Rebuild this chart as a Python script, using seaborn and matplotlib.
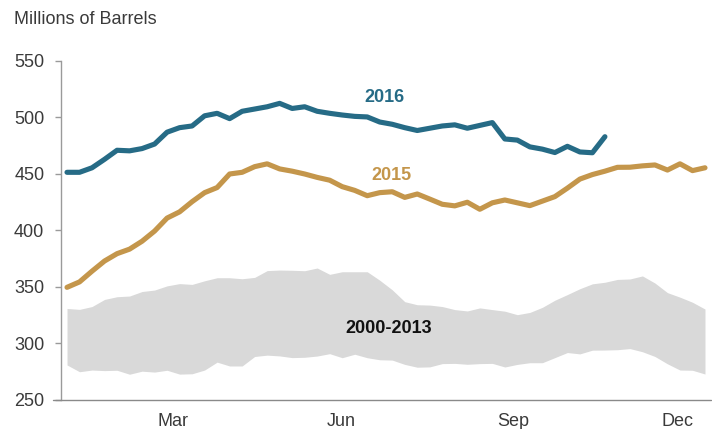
import numpy as np
import pandas as pd
import matplotlib
matplotlib.use("Agg")
import matplotlib.pyplot as plt
import seaborn as sns

# ---- data (weekly, millions of barrels) ----
weeks = list(range(52))

stocks_2016 = [451.5, 451.5, 455.5, 463, 471, 470.5, 472.5, 476.5, 487, 491,
               492.5, 501.5, 503.7, 499, 505.5, 507.5, 509.5, 512.5, 508, 509.5,
               505.5, 503.7, 502.2, 501, 500.5, 496, 494, 491, 488.5, 490.5,
               492.5, 493.5, 490.5, 493, 495.5, 481, 480, 474, 472, 469,
               474.5, 469.5, 468.8, 483]

stocks_2015 = [349.7, 354.5, 364, 373, 379.5, 383.5, 390.5, 399.5, 411, 416.5,
               425.5, 433.5, 438, 450, 451.5, 456.5, 459, 454.5, 452.5, 450,
               447, 444.5, 438.8, 435.5, 430.8, 433.5, 434.3, 429.3, 432.3, 427.8,
               423.2, 421.8, 425, 418.8, 424.5, 427, 424.5, 422, 426, 430,
               437.5, 445.5, 449.5, 452.5, 455.9, 456, 457.2, 458, 453.5, 459,
               453, 455.5]

range_high = [331, 330.2, 332.7, 339, 341.4, 342, 346, 347.3, 351, 353,
              352.3, 355.5, 358.2, 358.2, 357.3, 358.5, 364.5, 365, 364.8, 364.4,
              366.8, 361.2, 363.5, 363.5, 363.5, 356, 347.5, 337, 334.3, 334,
              332.7, 330, 328.8, 331.5, 330, 328.6, 325.5, 327.5, 332, 338.3,
              343.3, 348.5, 352.8, 354.2, 356.7, 357.1, 359.8, 353.5, 345, 341,
              336.5, 330.5]

range_low = [281, 275, 276.5, 276, 276.3, 272.8, 275.5, 274.7, 276.3, 272.9,
             273.2, 276.5, 283.5, 280.1, 280.1, 288.5, 289.7, 289, 287.5, 287.8,
             288.9, 291, 287.4, 290.5, 287.4, 285.6, 285.3, 281.5, 279, 279.3,
             282.2, 282.4, 281.6, 282.2, 282.4, 279.2, 281.5, 283, 283, 287.5,
             292, 290.8, 294.1, 294.2, 294.5, 295.5, 292.7, 288.5, 282, 276.5,
             276.3, 273]

month_labels = ["Mar", "Jun", "Sep", "Dec"]
month_pos = [8.47, 21.9, 35.65, 48.84]
y_ticks = [250, 300, 350, 400, 450, 500, 550]

BLUE = "#266B86"
TAN = "#C4964B"
BAND = "#D9D9D9"
TXT = "#3a3a3a"

df = pd.concat([
    pd.DataFrame({"week": weeks[:len(stocks_2016)], "stocks": stocks_2016, "year": "2016"}),
    pd.DataFrame({"week": weeks, "stocks": stocks_2015, "year": "2015"}),
])

sns.set_style("white")
plt.rcParams["font.family"] = ["Liberation Sans", "DejaVu Sans"]

fig = plt.figure(figsize=(7.12, 4.29), dpi=100)
ax = fig.add_axes([61 / 712, 1 - 400 / 429, 650 / 712, 339 / 429])

ax.fill_between(weeks, range_low, range_high, color=BAND, linewidth=0, zorder=1)
sns.lineplot(data=df, x="week", y="stocks", hue="year",
             palette={"2016": BLUE, "2015": TAN}, linewidth=3.7,
             legend=False, ax=ax, zorder=3, solid_capstyle="round")

ax.set_xlim(-0.48, 51.48)
ax.set_ylim(250, 550)
ax.set_yticks(y_ticks)
ax.set_xticks(month_pos)
ax.set_xticklabels(month_labels)
ax.set_xlabel("")
ax.set_ylabel("")

for s in ["top", "right", "bottom"]:
    ax.spines[s].set_visible(False)
ax.spines["left"].set_color("#9a9a9a")
ax.spines["left"].set_linewidth(1.0)
ax.plot([-0.012, 1.0], [0, 0], transform=ax.transAxes, color="#8a8a8a",
        linewidth=1.0, clip_on=False, zorder=5)

ax.tick_params(axis="y", length=4, width=1.0, color="#9a9a9a", pad=8,
               labelsize=13, labelcolor=TXT, direction="out", left=True)
ax.tick_params(axis="x", length=0, pad=9, labelsize=13, labelcolor=TXT)

ax.text(25.4, 517.5, "2016", color=BLUE, fontsize=13, fontweight="bold",
        ha="center", va="center")
ax.text(25.9, 449, "2015", color=TAN, fontsize=13, fontweight="bold",
        ha="center", va="center")
ax.text(25.7, 313.5, "2000-2013", color="#111111", fontsize=13, fontweight="bold",
        ha="center", va="center")

fig.text(14 / 712, 1 - 20 / 429, "Millions of Barrels", fontsize=13,
         color=TXT, ha="left", va="center")

fig.savefig("out.png", dpi=100)
